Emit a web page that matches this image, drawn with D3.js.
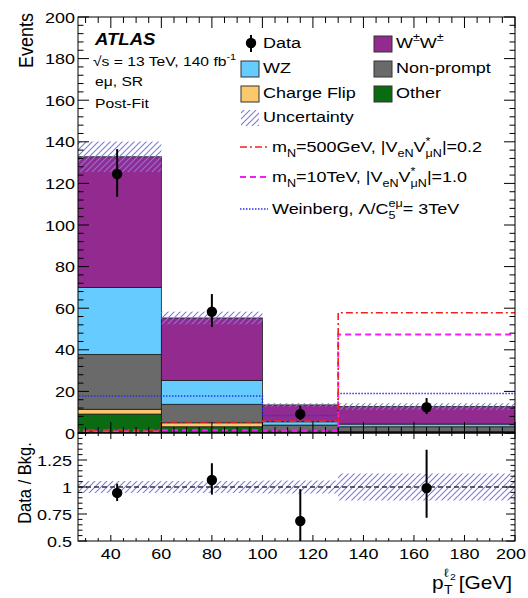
<!DOCTYPE html>
<html>
<head>
<meta charset="utf-8">
<script src="https://cdn.jsdelivr.net/npm/d3@7"></script>
<style>
  body { margin: 0; background: #fff; }
  text { font-family: "Liberation Sans", Arial, Helvetica, sans-serif; fill: #000; }
</style>
</head>
<body>
<svg id="chart" width="528" height="598"></svg>
<script>
// bins in pT of the subleading lepton
const binEdges = [25, 60, 100, 130, 200];

// stacked backgrounds, bottom -> top
const other      = [9.1, 3.0, 0.3, 0.3];
const chargeFlip = [2.3, 1.9, 0.6, 0.4];
const nonPrompt  = [26.4, 8.9, 2.9, 2.3];
const wz         = [32.2, 11.5, 1.6, 1.3];
const ww         = [62.8, 30.0, 8.1, 8.4];
const bkgRelUnc  = [0.055, 0.055, 0.06, 0.125];

// data
const dataY  = [124.5, 58.3, 9.1, 12.4];
const dataHi = [136.5, 66.8, 13.0, 16.8];
const dataLo = [113.6, 51.0, 6.2, 9.1];

// data / bkg
const ratioY  = [0.945, 1.065, 0.685, 0.99];
const ratioHi = [1.03, 1.22, 0.98, 1.345];
const ratioLo = [0.87, 0.93, 0.42, 0.715];

// signal hypotheses (step lines)
const sigMN500    = [1.5, 5.3, 5.7, 57.8];
const sigMN10T    = [0.8, 1.3, 1.1, 47.4];
const sigWeinberg = [17.8, 17.8, 8.4, 19.0];

const xMajor = [40, 60, 80, 100, 120, 140, 160, 180, 200];
const yMajor = [0, 20, 40, 60, 80, 100, 120, 140, 160, 180, 200];
const rMajor = [0.5, 0.75, 1, 1.25, 1.5];
const rLabels = ['0.5', '0.75', '1', '1.25'];

const colors = {
  other: '#0a6b12',
  chargeFlip: '#fcc86c',
  nonPrompt: '#6a6a6a',
  wz: '#66ccff',
  ww: '#922a8f'
};
const keys = ['other', 'chargeFlip', 'nonPrompt', 'wz', 'ww'];
const series = { other, chargeFlip, nonPrompt, wz, ww };

const SX = 1.16; // the picture's lettering is a bit wide

const svg = d3.select('#chart');
const L = 78, R = 515, T = 17, MB = 433, RB = 541;

const x = d3.scaleLinear().domain([27, 200]).range([L, R]);
const y = d3.scaleLinear().domain([0, 200]).range([MB, T]);
const yr = d3.scaleLinear().domain([0.5, 1.5]).range([RB, MB]);

const defs = svg.append('defs');
const hatch = defs.append('pattern')
  .attr('id', 'hatch').attr('patternUnits', 'userSpaceOnUse')
  .attr('width', 6).attr('height', 6);
hatch.append('path')
  .attr('d', 'M0,6 L6,0 M-1,1 L1,-1 M5,7 L7,5')
  .attr('stroke', '#7a7ae0').attr('stroke-width', 1.1);
defs.append('clipPath').attr('id', 'clipMain')
  .append('rect').attr('x', L).attr('y', T).attr('width', R - L).attr('height', MB - T);
defs.append('clipPath').attr('id', 'clipRatio')
  .append('rect').attr('x', L).attr('y', MB).attr('width', R - L).attr('height', RB - MB);

// text helper with sub / superscripts
function rich(sel, px, py, size, parts, anchor, extra) {
  const t = sel.append('text')
    .attr('transform', `translate(${px},${py}) scale(${SX},1)` + (extra || ''))
    .attr('font-size', size)
    .attr('text-anchor', anchor || 'start');
  let cur = 0;
  parts.forEach(function(p) {
    const str = p[0], kind = p[1], dx = p[2];
    const off = kind === 'sub' ? size * 0.3 : kind === 'sup' ? -size * 0.42 : 0;
    const ts = t.append('tspan')
      .attr('dy', off - cur)
      .attr('font-size', kind ? size * 0.7 : size)
      .text(str);
    if (dx) ts.attr('dx', dx);
    cur = off;
  });
  return t;
}

// ---------- main panel ----------
const rows = binEdges.slice(0, -1).map(function(lo, i) {
  const r = { lo: lo, hi: binEdges[i + 1] };
  keys.forEach(k => r[k] = series[k][i]);
  return r;
});
const stack = d3.stack().keys(keys)(rows);

const main = svg.append('g').attr('clip-path', 'url(#clipMain)');
stack.forEach(function(layer) {
  main.append('g').selectAll('rect')
    .data(layer)
    .enter().append('rect')
    .attr('x', d => x(d.data.lo))
    .attr('width', d => x(d.data.hi) - x(d.data.lo))
    .attr('y', d => y(d[1]))
    .attr('height', d => y(d[0]) - y(d[1]))
    .attr('fill', colors[layer.key])
    .attr('stroke', '#1a1a1a')
    .attr('stroke-width', 0.8);
});

const totals = rows.map(r => keys.reduce((s, k) => s + r[k], 0));
main.append('g').selectAll('rect')
  .data(rows)
  .enter().append('rect')
  .attr('x', d => x(d.lo))
  .attr('width', d => x(d.hi) - x(d.lo))
  .attr('y', (d, i) => y(totals[i] * (1 + bkgRelUnc[i])))
  .attr('height', (d, i) => y(totals[i] * (1 - bkgRelUnc[i])) - y(totals[i] * (1 + bkgRelUnc[i])))
  .attr('fill', 'url(#hatch)');

function stepPts(vals) {
  const pts = vals.map((v, i) => [binEdges[i], v]);
  pts.push([binEdges[binEdges.length - 1], vals[vals.length - 1]]);
  return pts;
}
const stepLine = d3.line().x(d => x(d[0])).y(d => y(d[1])).curve(d3.curveStepAfter);

const sigStyles = [
  { vals: sigWeinberg, color: '#3030f0', dash: '1.5,1.5', w: 1.6 },
  { vals: sigMN10T, color: '#f020f0', dash: '6,4', w: 2 },
  { vals: sigMN500, color: '#f42020', dash: '7,3,2,3', w: 1.6 }
];
sigStyles.forEach(function(s) {
  main.append('path')
    .attr('d', stepLine(stepPts(s.vals)))
    .attr('fill', 'none')
    .attr('stroke', s.color)
    .attr('stroke-width', s.w)
    .attr('stroke-dasharray', s.dash);
});

const centers = rows.map(r => (r.lo + r.hi) / 2);
const pts = main.append('g').selectAll('g')
  .data(dataY).enter().append('g');
pts.append('line')
  .attr('x1', (d, i) => x(centers[i])).attr('x2', (d, i) => x(centers[i]))
  .attr('y1', (d, i) => y(dataHi[i])).attr('y2', (d, i) => y(dataLo[i]))
  .attr('stroke', '#000').attr('stroke-width', 2);
pts.append('circle')
  .attr('cx', (d, i) => x(centers[i])).attr('cy', d => y(d))
  .attr('r', 5.2).attr('fill', '#000');

// ---------- ratio panel ----------
const ratio = svg.append('g').attr('clip-path', 'url(#clipRatio)');
ratio.append('g').selectAll('rect')
  .data(rows).enter().append('rect')
  .attr('x', d => x(d.lo))
  .attr('width', d => x(d.hi) - x(d.lo))
  .attr('y', (d, i) => yr(1 + bkgRelUnc[i]))
  .attr('height', (d, i) => yr(1 - bkgRelUnc[i]) - yr(1 + bkgRelUnc[i]))
  .attr('fill', 'url(#hatch)');
ratio.append('line')
  .attr('x1', L).attr('x2', R).attr('y1', yr(1)).attr('y2', yr(1))
  .attr('stroke', '#333').attr('stroke-width', 1.3).attr('stroke-dasharray', '5,3');
const rpts = ratio.append('g').selectAll('g')
  .data(ratioY).enter().append('g');
rpts.append('line')
  .attr('x1', (d, i) => x(centers[i])).attr('x2', (d, i) => x(centers[i]))
  .attr('y1', (d, i) => yr(ratioHi[i])).attr('y2', (d, i) => yr(ratioLo[i]))
  .attr('stroke', '#000').attr('stroke-width', 2);
rpts.append('circle')
  .attr('cx', (d, i) => x(centers[i])).attr('cy', d => yr(d))
  .attr('r', 5.2).attr('fill', '#000');

// ---------- frames and ticks ----------
const axes = svg.append('g').attr('stroke', '#000').attr('stroke-width', 1);
axes.append('rect').attr('x', L).attr('y', T).attr('width', R - L).attr('height', MB - T).attr('fill', 'none');
axes.append('rect').attr('x', L).attr('y', MB).attr('width', R - L).attr('height', RB - MB).attr('fill', 'none');

function vTicks(vals, y0, dir, len) {
  vals.forEach(v => axes.append('line')
    .attr('x1', x(v)).attr('x2', x(v)).attr('y1', y0).attr('y2', y0 + dir * len));
}
function hTicks(scale, vals, len) {
  vals.forEach(v => {
    axes.append('line').attr('x1', L).attr('x2', L + len).attr('y1', scale(v)).attr('y2', scale(v));
    axes.append('line').attr('x1', R).attr('x2', R - len).attr('y1', scale(v)).attr('y2', scale(v));
  });
}
const xMinor = d3.range(30, 200, 5).filter(v => v % 20 !== 0);
vTicks(xMajor, MB, -1, 11); vTicks(xMinor, MB, -1, 6);
vTicks(xMajor, T, 1, 11); vTicks(xMinor, T, 1, 6);
vTicks(xMajor, RB, -1, 6); vTicks(xMinor, RB, -1, 3);
vTicks(xMajor, MB, 1, 6); vTicks(xMinor, MB, 1, 3);

hTicks(y, yMajor, 11);
hTicks(y, d3.range(0, 200, 4).filter(v => v % 20 !== 0), 5.5);
hTicks(yr, rMajor, 9);
hTicks(yr, d3.range(0.55, 1.5, 0.05).filter(v => Math.abs(v * 4 - Math.round(v * 4)) > 1e-6), 4.5);

// tick labels
const lab = svg.append('g');
yMajor.forEach(v => rich(lab, 75, y(v) + 5.5, 15.5, [[String(v)]], 'end'));
rMajor.slice(0, 4).forEach((v, i) => rich(lab, 72, yr(v) + 5.5, 15.5, [[rLabels[i]]], 'end'));
xMajor.forEach(function(v, i) {
  const last = i === xMajor.length - 1;
  rich(lab, last ? 526 : x(v), 559, 15.5, [[String(v)]], last ? 'end' : 'middle');
});

// axis titles
rich(lab, 33, 13, 18, [['Events']], 'end', ' rotate(-90)');
rich(lab, 31, 483, 16.5, [['Data / Bkg.']], 'middle', ' rotate(-90)');
rich(lab, 512, 589, 18, [['[GeV]']], 'end');
rich(lab, 432, 589, 18, [['p']]);
rich(lab, 444, 594, 12, [['T']]);
rich(lab, 444, 577, 12, [['ℓ']]);
rich(lab, 450, 580, 9, [['2']]);

// ATLAS label
svg.append('text')
  .attr('transform', `translate(95,45) scale(${SX},1)`)
  .attr('font-size', 16).attr('font-weight', 'bold').attr('font-style', 'italic')
  .text('ATLAS');
rich(lab, 93, 66, 13.5, [['√s = 13 TeV, 140 fb'], ['-1', 'sup']]);
rich(lab, 95, 86, 13.5, [['eμ, SR']]);
rich(lab, 95, 108, 13.5, [['Post-Fit']]);

// ---------- legend ----------
const leg = svg.append('g');
leg.append('line').attr('x1', 251).attr('x2', 251).attr('y1', 35).attr('y2', 52)
  .attr('stroke', '#000').attr('stroke-width', 2);
leg.append('circle').attr('cx', 251).attr('cy', 43).attr('r', 5.2).attr('fill', '#000');
rich(leg, 263, 48, 15.5, [['Data']]);

const boxes = [
  { x: 241, y: 61, fill: colors.wz, label: [['WZ']] },
  { x: 241, y: 86, fill: colors.chargeFlip, label: [['Charge Flip']] },
  { x: 241, y: 110, fill: 'url(#hatch)', label: [['Uncertainty']], noStroke: true },
  { x: 374, y: 36, fill: colors.ww, label: [['W'], ['±', 'sup'], ['W'], ['±', 'sup']] },
  { x: 374, y: 61, fill: colors.nonPrompt, label: [['Non-prompt']] },
  { x: 374, y: 86, fill: colors.other, label: [['Other']] }
];
boxes.forEach(function(b) {
  leg.append('rect').attr('x', b.x).attr('y', b.y).attr('width', 18).attr('height', 16)
    .attr('fill', b.fill)
    .attr('stroke', b.noStroke ? 'none' : '#333').attr('stroke-width', 1);
  rich(leg, b.x + 22, b.y + 12, 15.5, b.label);
});

const sigLegend = [
  { s: sigStyles[2], y: 147, label: [['m'], ['N', 'sub'], ['=500GeV, |V'], ['eN', 'sub'], ['V'], ['*', 'sup'], ['μN', 'sub', -4.2], ['|=0.2']] },
  { s: sigStyles[1], y: 177, label: [['m'], ['N', 'sub'], ['=10TeV, |V'], ['eN', 'sub'], ['V'], ['*', 'sup'], ['μN', 'sub', -4.2], ['|=1.0']] },
  { s: sigStyles[0], y: 209, label: [['Weinberg, Λ/C'], ['5', 'sub'], ['eμ', 'sup', -6], ['= 3TeV']] }
];
sigLegend.forEach(function(e) {
  leg.append('line').attr('x1', 240).attr('x2', 268).attr('y1', e.y).attr('y2', e.y)
    .attr('stroke', e.s.color).attr('stroke-width', e.s.w).attr('stroke-dasharray', e.s.dash);
  rich(leg, 272, e.y + 5, 15.5, e.label);
});
</script>
</body>
</html>
